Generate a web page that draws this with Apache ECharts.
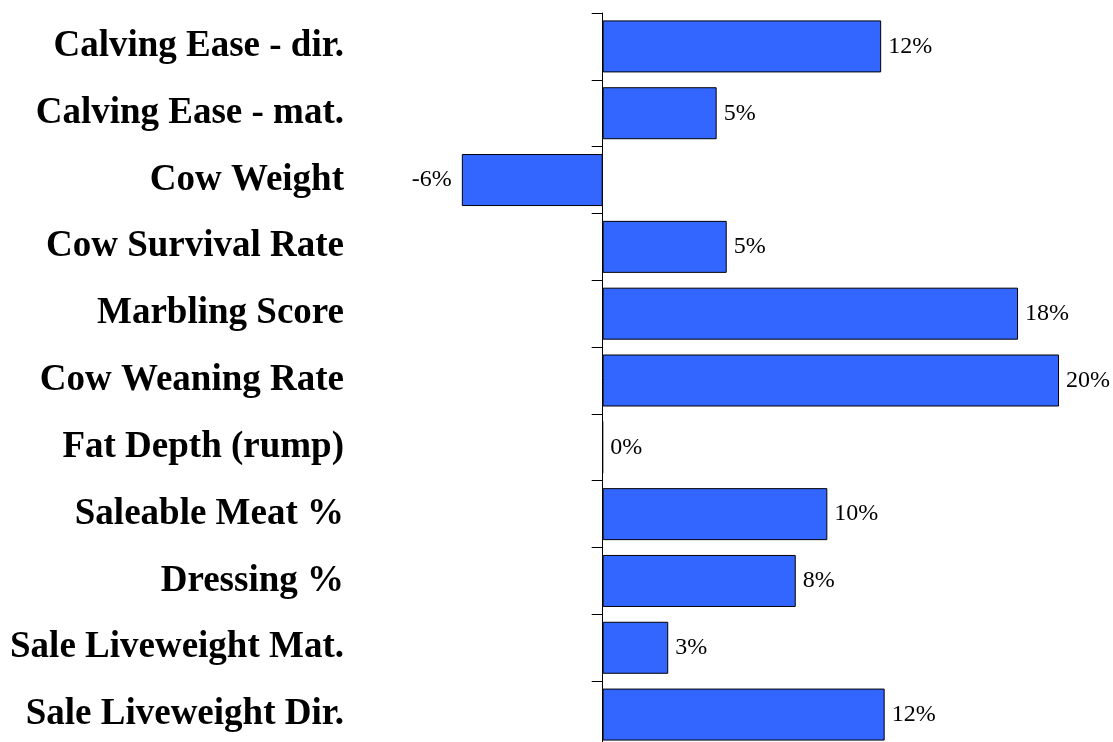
<!DOCTYPE html>
<html>
<head>
<meta charset="utf-8">
<script src="https://cdn.jsdelivr.net/npm/echarts@6/dist/echarts.min.js"></script>
<style>
  html, body { margin: 0; padding: 0; background: #ffffff; overflow: hidden; }
  #chart { width: 1113px; height: 742px; }
</style>
</head>
<body>
<div id="chart"></div>
<script>
// Trait categories, top to bottom
const categories = [
  'Calving Ease - dir.',
  'Calving Ease - mat.',
  'Cow Weight',
  'Cow Survival Rate',
  'Marbling Score',
  'Cow Weaning Rate',
  'Fat Depth (rump)',
  'Saleable Meat %',
  'Dressing %',
  'Sale Liveweight Mat.',
  'Sale Liveweight Dir.'
];

// Relative emphasis of each trait, in percent (labels show whole percents)
const values = [11.9, 4.87, -6.02, 5.3, 17.75, 19.5, 0, 9.6, 8.25, 2.8, 12.05];

const chart = echarts.init(document.getElementById('chart'), null, { renderer: 'canvas' });

const option = {
  backgroundColor: '#ffffff',
  animation: false,
  grid: {
    left: 415.5,
    width: 655.2,
    top: 13,
    height: 735,
    containLabel: false,
    outerBoundsMode: 'none'
  },
  xAxis: {
    type: 'value',
    min: -8,
    max: 20,
    show: false
  },
  yAxis: {
    type: 'category',
    data: categories,
    inverse: true,
    axisLine: { show: true, onZero: true, lineStyle: { color: '#000000', width: 1 } },
    axisTick: { show: true, inside: false, length: 11, alignWithLabel: false, lineStyle: { color: '#000000', width: 1 } },
    axisLabel: {
      margin: 71.5,
      fontFamily: '"Liberation Serif", "Times New Roman", serif',
      fontWeight: 'bold',
      fontSize: 37,
      color: '#000000'
    },
    splitLine: { show: false }
  },
  series: [{
    type: 'bar',
    barWidth: 52,
    data: values.map(v => ({
      value: v,
      label: v < 0 ? { position: 'left', distance: 10 } : { position: 'right' }
    })),
    itemStyle: {
      color: '#3366FF',
      borderColor: '#000000',
      borderWidth: 1
    },
    label: {
      show: true,
      distance: 7,
      fontFamily: '"Liberation Serif", "Times New Roman", serif',
      fontSize: 24,
      color: '#000000',
      formatter: p => Math.round(p.value) + '%'
    }
  }]
};

chart.setOption(option);
</script>
</body>
</html>
